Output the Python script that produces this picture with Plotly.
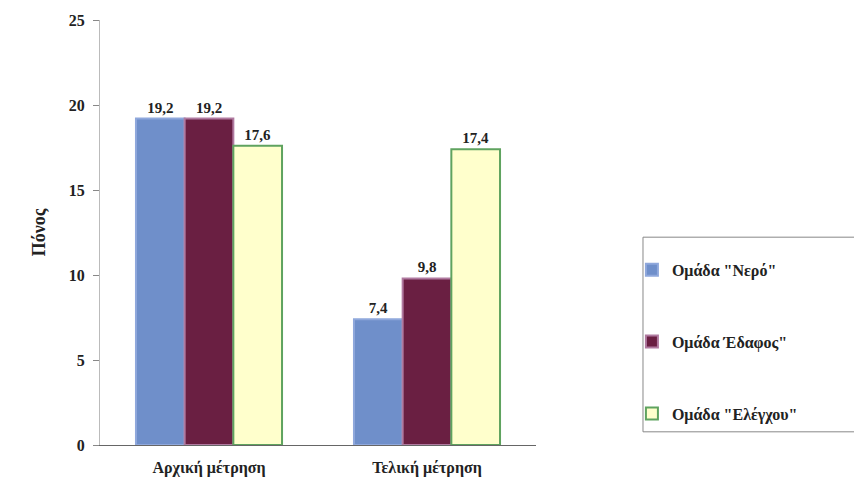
import plotly.graph_objects as go

categories = ["Αρχική μέτρηση", "Τελική μέτρηση"]
series_names = ['Ομάδα "Νερό"', 'Ομάδα Έδαφος"', 'Ομάδα "Ελέγχου"']
nero = [19.2, 7.4]
edafos = [19.2, 9.8]
elegxou = [17.6, 17.4]
y_ticks = [0, 5, 10, 15, 20, 25]

fills = ["#6f8fca", "#6a1f42", "#ffffcc"]
borders = ["#8fa8dc", "#b07aa0", "#5fa35f"]
FONT = "Times New Roman, Liberation Serif, DejaVu Serif, serif"

def fmt(v):
    return ("%.1f" % v).replace(".", ",")

fig = go.Figure()
for i, (name, vals) in enumerate(zip(series_names, [nero, edafos, elegxou])):
    fig.add_trace(go.Bar(
        x=categories, y=vals, name=name,
        legendgroup=str(i),
        marker=dict(color=fills[i], line=dict(color=borders[i], width=2)),
        text=[fmt(v) for v in vals], textposition="outside",
        textfont=dict(family=FONT, size=15, color="#222222", weight="bold"),
        cliponaxis=False,
    ))

fig.add_shape(type="rect", xref="paper", yref="paper",
              x0=1.2454, x1=1.76, y0=0.031, y1=0.489,
              line=dict(color="#888888", width=1), fillcolor="rgba(0,0,0,0)", layer="below")

fig.update_layout(
    width=846, height=472,
    margin=dict(l=92, r=318, t=12, b=35),
    paper_bgcolor="white", plot_bgcolor="white",
    barmode="group", bargap=0.33, bargroupgap=0,
    font=dict(family=FONT, size=15, color="#222222", weight="bold"),
    showlegend=True,
    legend=dict(
        x=1.22, y=0.452, xanchor="left", yanchor="top",
        borderwidth=0, bgcolor="rgba(0,0,0,0)",
        font=dict(family=FONT, size=16, color="#222222", weight="bold"),
        tracegroupgap=48, itemsizing="constant", itemwidth=30,
    ),
    xaxis=dict(
        showline=True, linecolor="#666666", linewidth=1,
        ticks="", tickfont=dict(family=FONT, size=16, color="#222222", weight="bold"),
        range=[-0.5, 1.5], automargin=False, ticklabelstandoff=8,
    ),
    yaxis=dict(
        range=[0, 25], tickvals=y_ticks, ticktext=[str(t) for t in y_ticks],
        showgrid=False, zeroline=False, automargin=False,
        showline=True, linecolor="#bbbbbb", linewidth=1,
        ticks="outside", ticklen=6, tickcolor="#888888", ticklabelstandoff=5,
        tickfont=dict(family=FONT, size=16, color="#222222", weight="bold"),
        title=dict(text="Πόνος", font=dict(family=FONT, size=18, color="#222222", weight="bold"), standoff=18),
    ),
)

fig.write_html("out.html")
